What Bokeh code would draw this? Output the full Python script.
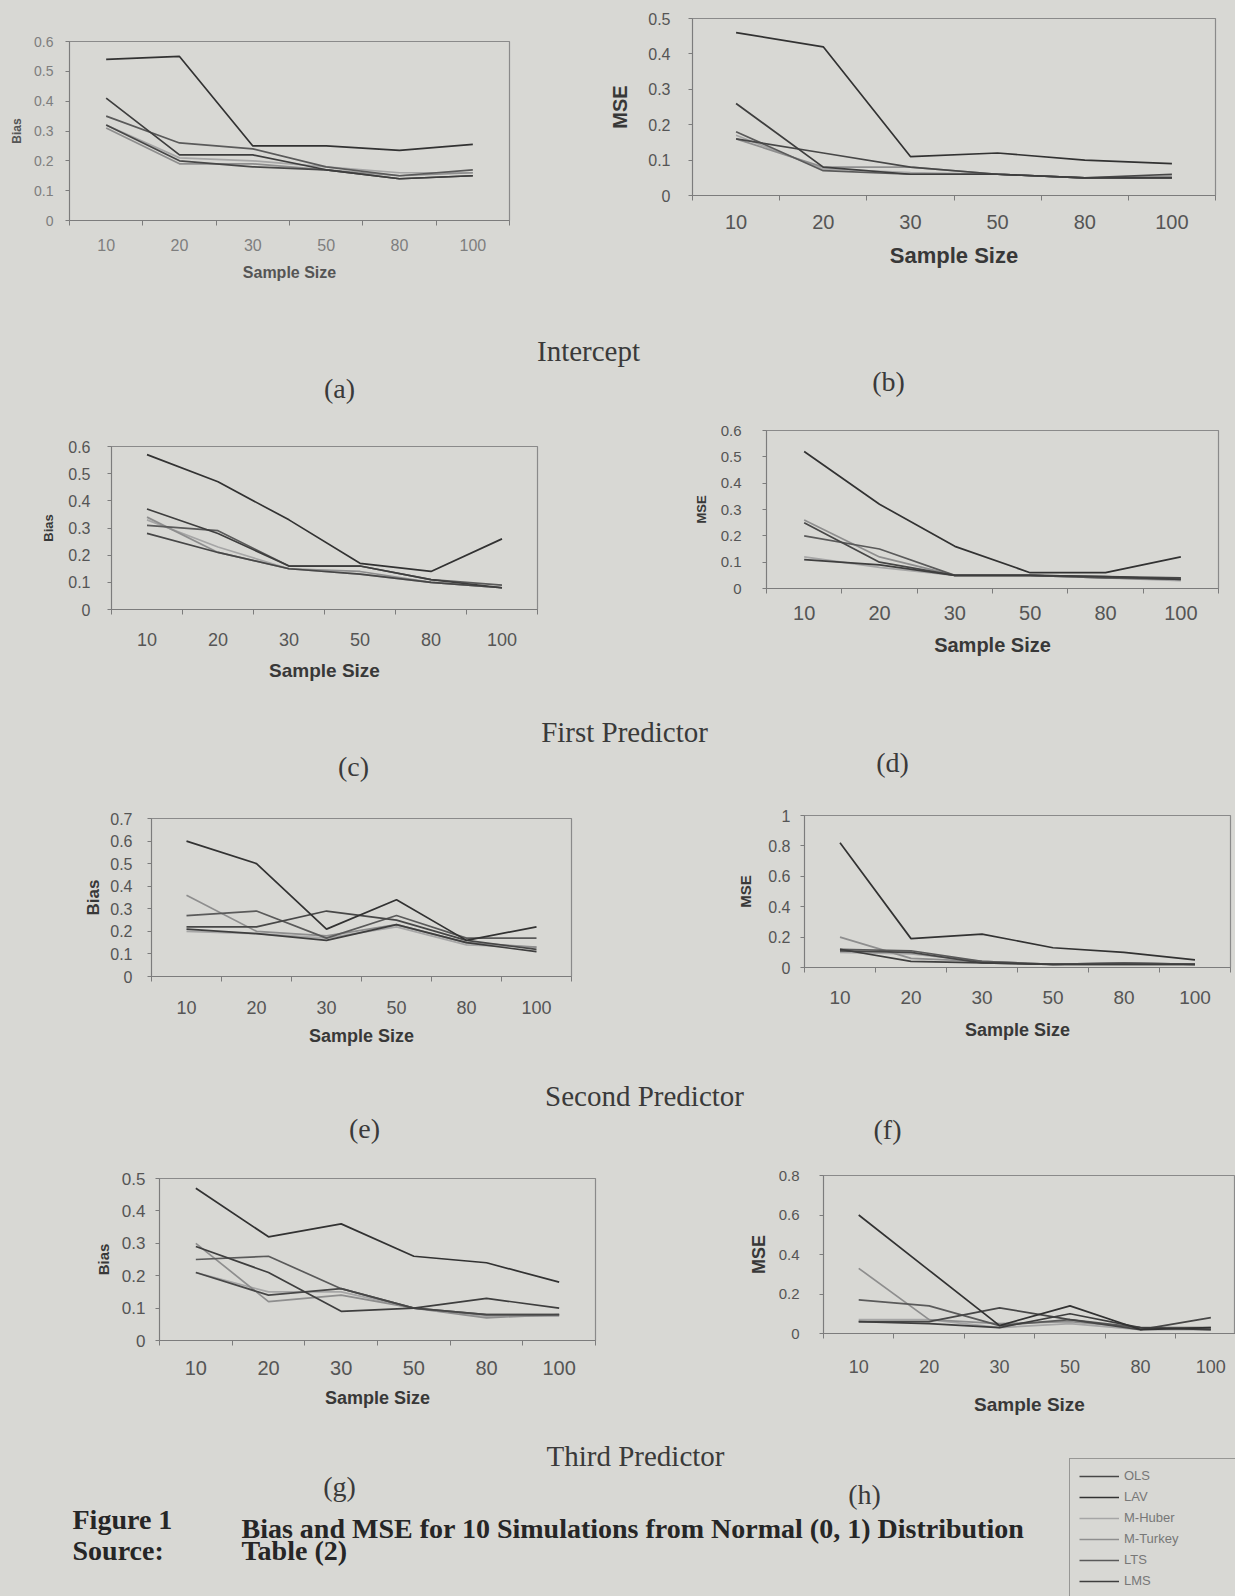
from bokeh.plotting import figure
from bokeh.layouts import column, row
from bokeh.models import (Range1d, FixedTicker, NumeralTickFormatter, LinearAxis,
                          Label, Legend, LegendItem, Spacer)
from bokeh.embed import file_html
from bokeh.resources import INLINE

# ---------------- data ----------------
sample_sizes = ["10", "20", "30", "50", "80", "100"]
methods = ["OLS", "LAV", "M-Huber", "M-Turkey", "LTS", "LMS"]

intercept_bias = {
    "OLS":      [0.32, 0.20, 0.18, 0.17, 0.14, 0.15],
    "LAV":      [0.54, 0.55, 0.25, 0.25, 0.235, 0.255],
    "M-Huber":  [0.32, 0.21, 0.20, 0.18, 0.16, 0.16],
    "M-Turkey": [0.31, 0.19, 0.19, 0.17, 0.15, 0.16],
    "LTS":      [0.35, 0.26, 0.24, 0.18, 0.15, 0.17],
    "LMS":      [0.41, 0.22, 0.22, 0.17, 0.14, 0.15],
}
intercept_mse = {
    "OLS":      [0.16, 0.12, 0.08, 0.06, 0.05, 0.06],
    "LAV":      [0.46, 0.42, 0.11, 0.12, 0.10, 0.09],
    "M-Huber":  [0.17, 0.075, 0.065, 0.06, 0.05, 0.05],
    "M-Turkey": [0.16, 0.08, 0.08, 0.06, 0.05, 0.055],
    "LTS":      [0.18, 0.07, 0.06, 0.06, 0.05, 0.05],
    "LMS":      [0.26, 0.08, 0.06, 0.06, 0.05, 0.05],
}
first_bias = {
    "OLS":      [0.28, 0.21, 0.15, 0.13, 0.10, 0.08],
    "LAV":      [0.57, 0.47, 0.33, 0.17, 0.14, 0.26],
    "M-Huber":  [0.33, 0.23, 0.15, 0.13, 0.10, 0.08],
    "M-Turkey": [0.34, 0.21, 0.15, 0.14, 0.10, 0.08],
    "LTS":      [0.31, 0.29, 0.16, 0.16, 0.11, 0.09],
    "LMS":      [0.37, 0.28, 0.16, 0.16, 0.11, 0.08],
}
first_mse = {
    "OLS":      [0.25, 0.10, 0.05, 0.05, 0.045, 0.04],
    "LAV":      [0.52, 0.32, 0.16, 0.06, 0.06, 0.12],
    "M-Huber":  [0.12, 0.08, 0.05, 0.05, 0.04, 0.03],
    "M-Turkey": [0.26, 0.12, 0.05, 0.05, 0.04, 0.04],
    "LTS":      [0.20, 0.15, 0.05, 0.05, 0.04, 0.035],
    "LMS":      [0.11, 0.09, 0.05, 0.05, 0.045, 0.035],
}
second_bias = {
    "OLS":      [0.22, 0.22, 0.29, 0.25, 0.16, 0.12],
    "LAV":      [0.60, 0.50, 0.21, 0.34, 0.16, 0.22],
    "M-Huber":  [0.20, 0.19, 0.17, 0.22, 0.14, 0.13],
    "M-Turkey": [0.36, 0.20, 0.18, 0.23, 0.15, 0.13],
    "LTS":      [0.27, 0.29, 0.17, 0.27, 0.17, 0.17],
    "LMS":      [0.21, 0.19, 0.16, 0.23, 0.15, 0.11],
}
second_mse = {
    "OLS":      [0.11, 0.10, 0.03, 0.02, 0.02, 0.02],
    "LAV":      [0.82, 0.19, 0.22, 0.13, 0.10, 0.05],
    "M-Huber":  [0.10, 0.09, 0.04, 0.02, 0.03, 0.02],
    "M-Turkey": [0.20, 0.06, 0.04, 0.02, 0.03, 0.02],
    "LTS":      [0.12, 0.11, 0.04, 0.02, 0.03, 0.02],
    "LMS":      [0.12, 0.04, 0.03, 0.02, 0.02, 0.02],
}
third_bias = {
    "OLS":      [0.21, 0.14, 0.16, 0.10, 0.08, 0.08],
    "LAV":      [0.47, 0.32, 0.36, 0.26, 0.24, 0.18],
    "M-Huber":  [0.21, 0.15, 0.15, 0.10, 0.075, 0.075],
    "M-Turkey": [0.30, 0.12, 0.14, 0.10, 0.07, 0.08],
    "LTS":      [0.25, 0.26, 0.16, 0.10, 0.08, 0.08],
    "LMS":      [0.29, 0.21, 0.09, 0.10, 0.13, 0.10],
}
third_mse = {
    "OLS":      [0.06, 0.06, 0.13, 0.07, 0.02, 0.08],
    "LAV":      [0.60, 0.32, 0.04, 0.14, 0.02, 0.03],
    "M-Huber":  [0.07, 0.07, 0.03, 0.05, 0.02, 0.02],
    "M-Turkey": [0.33, 0.07, 0.05, 0.06, 0.03, 0.02],
    "LTS":      [0.17, 0.14, 0.04, 0.07, 0.03, 0.03],
    "LMS":      [0.06, 0.05, 0.03, 0.10, 0.03, 0.02],
}

ticks_a = [0, 0.1, 0.2, 0.3, 0.4, 0.5, 0.6]
ticks_b = [0, 0.1, 0.2, 0.3, 0.4, 0.5]
ticks_c = [0, 0.1, 0.2, 0.3, 0.4, 0.5, 0.6]
ticks_d = [0, 0.1, 0.2, 0.3, 0.4, 0.5, 0.6]
ticks_e = [0, 0.1, 0.2, 0.3, 0.4, 0.5, 0.6, 0.7]
ticks_f = [0, 0.2, 0.4, 0.6, 0.8, 1]
ticks_g = [0, 0.1, 0.2, 0.3, 0.4, 0.5]
ticks_h = [0, 0.2, 0.4, 0.6, 0.8]

# ---------------- styles ----------------
PAGE = "#d8d8d4"
SANS = "Liberation Sans"
SERIF = "Liberation Serif"
AXIS = "#7c7c7c"
TICK_TXT = "#555555"
LABEL_TXT = "#383838"
COLORS = {"OLS": "#474747", "LAV": "#323232", "M-Huber": "#a6a6a6",
          "M-Turkey": "#8e8e8e", "LTS": "#5a5a5a", "LMS": "#3e3e3e"}
DRAW_ORDER = ["M-Huber", "M-Turkey", "LTS", "OLS", "LMS", "LAV"]


def make_chart(data, yticks, ylabel, x0, w, frame, tb, bb, x_end, fonts, targets,
               tick_color=TICK_TXT, label_color=LABEL_TXT):
    l, t, r, b = frame
    fsXT, fsYT, fsX, fsY = fonts
    xt, xl, ygap, ylc = targets
    fl, fw, fh = l - x0, r - l, b - t
    p = figure(frame_width=fw, frame_height=fh,
               min_border_left=fl, min_border_top=tb,
               min_border_right=w - fl - fw, min_border_bottom=bb,
               x_range=Range1d(0, x_end), y_range=Range1d(0, yticks[-1]),
               x_axis_type=None, y_axis_type=None,
               output_backend="svg", toolbar_location=None)
    p.background_fill_color = PAGE
    p.border_fill_color = PAGE
    p.outline_line_color = "#8a8a8a"
    p.outline_line_width = 1.2

    xs = [i + 0.5 for i in range(len(sample_sizes))]
    for m in DRAW_ORDER:
        p.line(xs, data[m], line_color=COLORS[m], line_width=1.7)

    sT = max(0, round((xt - b) - 0.56 * fsXT))
    alx = max(0, round((xl - 0.56 * fsX) - b - sT - 1.15 * fsXT))
    xax = LinearAxis(
        ticker=FixedTicker(ticks=xs, minor_ticks=list(range(len(sample_sizes) + 1))),
        major_label_overrides={x: s for x, s in zip(xs, sample_sizes)},
        axis_label="Sample Size")
    xax.major_tick_out = 0
    xax.major_tick_in = 0
    xax.minor_tick_out = 5
    xax.minor_tick_in = 0
    xax.minor_tick_line_color = AXIS
    xax.major_label_standoff = sT
    xax.axis_label_standoff = alx
    xax.major_label_text_font_size = f"{fsXT}px"

    sY = max(0, ygap - 4)
    aly = max(0, round((l - ylc) - ygap - 1.39 * fsYT - 0.58 * fsY) - 3)
    yax = LinearAxis(ticker=FixedTicker(ticks=yticks),
                     formatter=NumeralTickFormatter(format="0.[0]"),
                     axis_label=ylabel)
    yax.major_tick_out = 4
    yax.major_tick_in = 0
    yax.minor_tick_out = 0
    yax.minor_tick_in = 0
    yax.major_tick_line_color = AXIS
    yax.major_label_standoff = sY
    yax.axis_label_standoff = aly
    yax.major_label_text_font_size = f"{fsYT}px"

    for ax, fl_size in ((xax, fsX), (yax, fsY)):
        ax.axis_line_color = AXIS
        ax.major_label_text_font = SANS
        ax.major_label_text_color = tick_color
        ax.axis_label_text_font = SANS
        ax.axis_label_text_font_style = "bold"
        ax.axis_label_text_font_size = f"{fl_size}px"
        ax.axis_label_text_color = label_color
    p.add_layout(xax, "below")
    p.add_layout(yax, "left")
    return p


def chart_row(left, right, y0):
    """left/right: (fig, width, frame_top). Both figures share the same top and
    bottom borders; the lower one is pushed down with a spacer."""
    top = min(left[2], right[2])
    cols = []
    for (fig, w, ftop) in (left, right):
        dy = ftop - top
        cols.append(column(Spacer(width=w, height=dy), fig) if dy > 0 else fig)
    return row(*cols)


def text_band(y0, h, texts):
    p = figure(width=1235, height=h, x_range=Range1d(0, 1235), y_range=Range1d(y0 + h, y0),
               min_border=0, x_axis_type=None, y_axis_type=None,
               output_backend="svg", toolbar_location=None)
    p.background_fill_color = PAGE
    p.border_fill_color = PAGE
    p.outline_line_color = None
    for (x, y, txt, size, bold, align, color) in texts:
        p.add_layout(Label(x=x, y=y, text=txt, text_font=SERIF, text_font_size=f"{size}px",
                           text_font_style="bold" if bold else "normal",
                           text_align=align, text_baseline="middle", text_color=color))
    return p


# row 1 (y0 = 0)
BB1 = 80
fa = make_chart(intercept_bias, ticks_a, "Bias", 0, 600, (69, 41, 509, 220), 18, BB1, 6,
                (16, 14, 16, 12), (242, 270, 16, 17), tick_color="#7e7e7e", label_color="#555555")
fb = make_chart(intercept_mse, ticks_b, "MSE", 600, 635, (692, 18, 1215, 195), 18, BB1, 6,
                (20, 16, 22, 20), (220, 255, 22, 619))
r1 = chart_row((fa, 600, 41), (fb, 635, 18), 0)
R1_END = 220 + BB1

# row 2 (y0 = 405)
Y2, BB2 = 405, 75
fc = make_chart(first_bias, ticks_c, "Bias", 0, 620, (111, 446, 537, 609), 25, BB2, 6,
                (18, 16, 19, 13), (637, 669, 21, 48))
fd = make_chart(first_mse, ticks_d, "MSE", 620, 615, (766, 430, 1218, 588), 25, BB2, 6,
                (20, 15, 20, 13), (611, 645, 25, 701))
r2 = chart_row((fc, 620, 446), (fd, 615, 430), Y2)
R2_END = 609 + BB2

# row 3 (y0 = 790)
Y3, BB3 = 790, 76
fe = make_chart(second_bias, ticks_e, "Bias", 0, 700, (151, 818, 571, 976), 25, BB3, 6,
                (18, 16, 18, 17), (1005, 1035, 19, 93))
ff = make_chart(second_mse, ticks_f, "MSE", 700, 535, (804, 815, 1230, 967), 25, BB3, 6,
                (19, 16, 18, 15), (996, 1030, 14, 745))
r3 = chart_row((fe, 700, 818), (ff, 535, 815), Y3)
R3_END = 976 + BB3

# row 4 (y0 = 1155)
Y4, BB4 = 1155, 82
fg = make_chart(third_bias, ticks_g, "Bias", 0, 710, (159, 1178, 595, 1340), 20, BB4, 6,
                (20, 17, 18, 15), (1366, 1398, 14, 103))
fh = make_chart(third_mse, ticks_h, "MSE", 710, 525, (823, 1175, 1235, 1333), 20, BB4, 5.85,
                (18, 15, 19, 18), (1364, 1403, 24, 758))
r4 = chart_row((fg, 710, 1178), (fh, 525, 1175), Y4)
R4_END = 1340 + BB4

T = "#3a3a3a"
t1 = text_band(R1_END, Y2 - R1_END, [(588, 350, "Intercept", 29, False, "center", T),
                                      (339, 388, "(a)", 28, False, "center", T),
                                      (888, 381, "(b)", 28, False, "center", T)])
t2 = text_band(R2_END, Y3 - R2_END, [(624, 731, "First Predictor", 29, False, "center", T),
                                      (353, 766, "(c)", 28, False, "center", T),
                                      (892, 762, "(d)", 28, False, "center", T)])
t3 = text_band(R3_END, Y4 - R3_END, [(644, 1095, "Second Predictor", 29, False, "center", T),
                                      (364, 1128, "(e)", 28, False, "center", T),
                                      (887, 1129, "(f)", 28, False, "center", T)])
C = "#262626"
t4 = text_band(R4_END, 1596 - R4_END, [
    (635, 1455, "Third Predictor", 29, False, "center", T),
    (339, 1486, "(g)", 28, False, "center", T),
    (864, 1494, "(h)", 28, False, "center", T),
    (72, 1519, "Figure 1", 28, True, "left", C),
    (72, 1550, "Source:", 28, True, "left", C),
    (241, 1528, "Bias and MSE for 10 Simulations from Normal (0, 1) Distribution", 28, True, "left", C),
    (241, 1550, "Table (2)", 28, True, "left", C)])

# legend (series key) in the bottom band
items = []
for m in methods:
    rr = t4.line(x=[float("nan")], y=[float("nan")], line_color=COLORS[m], line_width=1.7)
    items.append(LegendItem(label=m, renderers=[rr]))
LEG_TOP = 1466
leg_h = 2 * 9 + 6 * 14 + 5 * 6
leg = Legend(items=items, location=(1069, (1596 - R4_END) - (LEG_TOP - R4_END) - leg_h),
             orientation="vertical")
leg.border_line_color = "#555555"
leg.border_line_width = 1.5
leg.background_fill_color = PAGE
leg.background_fill_alpha = 1.0
leg.label_text_font = SANS
leg.label_text_font_size = "13px"
leg.label_text_color = "#777777"
leg.glyph_width = 40
leg.glyph_height = 14
leg.label_height = 14
leg.label_width = 110
leg.label_standoff = 5
leg.spacing = 6
leg.padding = 9
leg.margin = 0
t4.add_layout(leg)

layout = column(r1, t1, r2, t2, r3, t3, r4, t4, styles={"background-color": PAGE})

open("out.html", "w").write(file_html(layout, INLINE))
